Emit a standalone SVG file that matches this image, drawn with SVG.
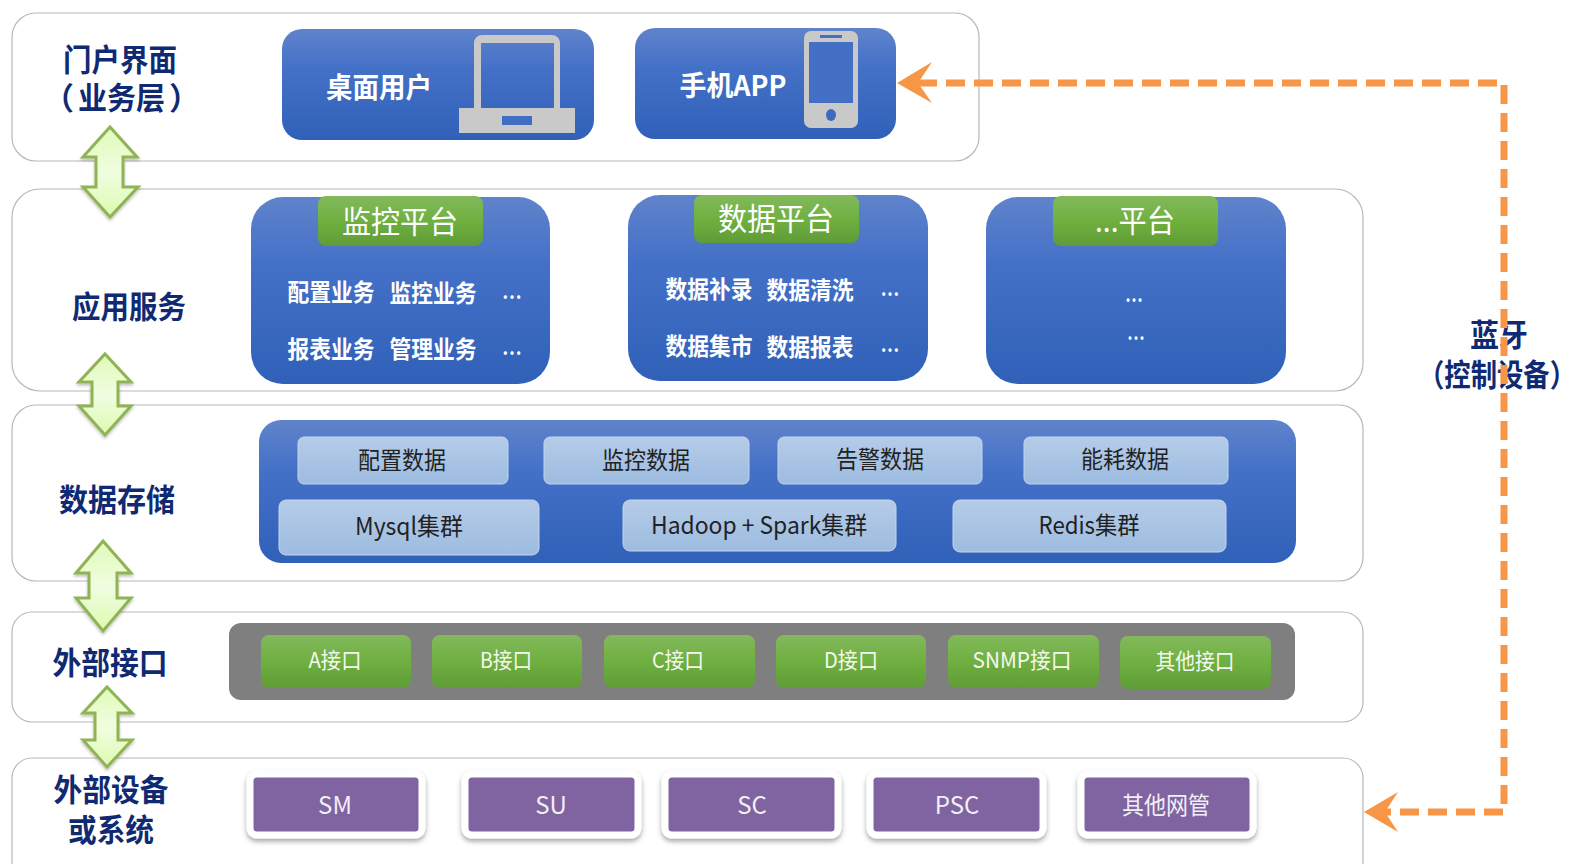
<svg xmlns="http://www.w3.org/2000/svg" width="1577" height="864" viewBox="0 0 1577 864">
<style>
text{font-family:"Noto Sans CJK SC","Noto Sans",sans-serif;text-anchor:middle}
.layer{fill:#fff;stroke:#b8b8b8;stroke-width:1.2}
.blue{fill:url(#gb)}
.green{fill:url(#gg)}
.light{fill:url(#gl);stroke:#c4d5ea;stroke-width:1}
.purple{fill:#8063a1;stroke:#fff;stroke-width:7;filter:url(#sh)}
.title{font-weight:700;font-size:31px;fill:#0f2a72}
.w{fill:#fff}
.sv{font-size:24px;font-weight:700;fill:#fff}
.dark{fill:#222;font-size:24px}
.if{fill:#f4f8f0;font-size:22px}
.pu{fill:#f2eef6;font-size:24px}
.arr{fill:url(#ga);stroke:#8fb354;stroke-width:3;stroke-linejoin:miter;filter:url(#sh2)}
.gray{fill:#c9c9c9}
.dash{fill:none;stroke:#f79646;stroke-width:7;stroke-dasharray:19 9}
</style>
<defs>
<linearGradient id="gb" x1="0" y1="0" x2="0" y2="1"><stop offset="0" stop-color="#6083cb"/><stop offset=".35" stop-color="#4471c8"/><stop offset="1" stop-color="#3060b8"/></linearGradient>
<linearGradient id="gg" x1="0" y1="0" x2="0" y2="1"><stop offset="0" stop-color="#83b95c"/><stop offset=".5" stop-color="#6fb040"/><stop offset="1" stop-color="#5f9c36"/></linearGradient>
<linearGradient id="gl" x1="0" y1="0" x2="0" y2="1"><stop offset="0" stop-color="#b5cce8"/><stop offset="1" stop-color="#9dbce0"/></linearGradient>
<linearGradient id="ga" x1="0" y1="0" x2="0" y2="1"><stop offset="0" stop-color="#dffbb8"/><stop offset=".5" stop-color="#f0fde0"/><stop offset="1" stop-color="#dcfbb0"/></linearGradient>
<filter id="sh" x="-10%" y="-10%" width="120%" height="130%"><feDropShadow dx="0" dy="3" stdDeviation="2.5" flood-color="#000" flood-opacity=".35"/></filter>
<filter id="sh2" x="-20%" y="-10%" width="140%" height="120%"><feDropShadow dx="0" dy="2" stdDeviation="1.5" flood-color="#000" flood-opacity=".25"/></filter>
</defs>

<g id="layer-portal"><rect class="layer" x="12" y="13" width="967" height="148" rx="24"/></g>
<g id="layer-app"><rect class="layer" x="12" y="189" width="1351" height="202" rx="28"/></g>
<g id="layer-store"><rect class="layer" x="12" y="405" width="1351" height="176" rx="24"/></g>
<g id="layer-iface"><rect class="layer" x="12" y="612" width="1351" height="110" rx="20"/></g>
<g id="layer-device"><rect class="layer" x="12" y="758" width="1351" height="130" rx="20"/></g>

<g id="label-portal"><text class="title" x="120" y="71" textLength="114" lengthAdjust="spacingAndGlyphs">门户界面</text><text class="title" x="43" y="109" style="text-anchor:start"><tspan>（</tspan><tspan dx="4" textLength="87" lengthAdjust="spacingAndGlyphs">业务层</tspan><tspan dx="4">）</tspan></text></g>
<g id="label-app"><text class="title" x="129" y="318" textLength="114" lengthAdjust="spacingAndGlyphs">应用服务</text></g>
<g id="label-store"><text class="title" x="117" y="511" textLength="116" lengthAdjust="spacingAndGlyphs">数据存储</text></g>
<g id="label-iface"><text class="title" x="110" y="674" textLength="115" lengthAdjust="spacingAndGlyphs">外部接口</text></g>
<g id="label-device"><text class="title" x="111" y="801" textLength="115" lengthAdjust="spacingAndGlyphs">外部设备</text><text class="title" x="111" y="841" textLength="86" lengthAdjust="spacingAndGlyphs">或系统</text></g>

<g id="desktop"><rect class="blue" x="282" y="29" width="312" height="111" rx="20"/>
<text class="w" x="379" y="98" font-size="28" font-weight="700" textLength="106" lengthAdjust="spacingAndGlyphs">桌面用户</text>
<path class="gray" fill-rule="evenodd" d="M482 35h70a8 8 0 0 1 8 8v65h15v25H459v-25h15V43a8 8 0 0 1 8-8zM481 43v65h73V43z"/>
<rect x="502" y="116" width="30" height="9" fill="#3f6ec4"/></g>

<g id="mobile"><rect class="blue" x="635" y="28" width="261" height="111" rx="20"/>
<text class="w" x="733" y="96" font-size="28" font-weight="700" textLength="107" lengthAdjust="spacingAndGlyphs">手机APP</text>
<rect class="gray" x="804" y="31" width="54" height="97" rx="7"/>
<rect x="809" y="42" width="44" height="61" fill="#4370c5"/>
<rect x="820" y="35" width="22" height="3" fill="#4370c5"/>
<ellipse cx="831" cy="115" rx="5" ry="6" fill="#3c6abf"/></g>

<g id="platform-monitor"><rect class="blue" x="251" y="197" width="299" height="187" rx="32"/>
<rect class="green" x="318" y="196" width="165" height="50" rx="8"/>
<text class="w" x="400" y="233" font-size="31" textLength="116" lengthAdjust="spacingAndGlyphs">监控平台</text>
<text class="sv" x="331" y="301" textLength="87" lengthAdjust="spacingAndGlyphs">配置业务</text><text class="sv" x="433" y="302" textLength="87" lengthAdjust="spacingAndGlyphs">监控业务</text><text class="sv" x="512" y="306" textLength="20" lengthAdjust="spacingAndGlyphs">…</text>
<text class="sv" x="331" y="358" textLength="87" lengthAdjust="spacingAndGlyphs">报表业务</text><text class="sv" x="433" y="358" textLength="87" lengthAdjust="spacingAndGlyphs">管理业务</text><text class="sv" x="512" y="362" textLength="20" lengthAdjust="spacingAndGlyphs">…</text></g>

<g id="platform-data"><rect class="blue" x="628" y="195" width="300" height="186" rx="32"/>
<rect class="green" x="694" y="195" width="165" height="48" rx="8"/>
<text class="w" x="776" y="230" font-size="31" textLength="116" lengthAdjust="spacingAndGlyphs">数据平台</text>
<text class="sv" x="709" y="298" textLength="87" lengthAdjust="spacingAndGlyphs">数据补录</text><text class="sv" x="810" y="299" textLength="87" lengthAdjust="spacingAndGlyphs">数据清洗</text><text class="sv" x="890" y="303" textLength="19" lengthAdjust="spacingAndGlyphs">…</text>
<text class="sv" x="709" y="355" textLength="87" lengthAdjust="spacingAndGlyphs">数据集市</text><text class="sv" x="810" y="356" textLength="87" lengthAdjust="spacingAndGlyphs">数据报表</text><text class="sv" x="890" y="359" textLength="19" lengthAdjust="spacingAndGlyphs">…</text></g>

<g id="platform-other"><rect class="blue" x="986" y="197" width="300" height="187" rx="32"/>
<rect class="green" x="1053" y="196" width="165" height="50" rx="8"/>
<text class="w" x="1135" y="232" font-size="31" textLength="80" lengthAdjust="spacingAndGlyphs">...平台</text>
<text class="sv" x="1134" y="309" textLength="18" lengthAdjust="spacingAndGlyphs">…</text><text class="sv" x="1136" y="347" textLength="18" lengthAdjust="spacingAndGlyphs">…</text></g>

<g id="storage"><rect class="blue" x="259" y="420" width="1037" height="143" rx="22"/>
<rect class="light" x="298" y="437" width="210" height="47" rx="6"/><text class="dark" x="402" y="469" textLength="88" lengthAdjust="spacingAndGlyphs">配置数据</text>
<rect class="light" x="544" y="437" width="205" height="47" rx="6"/><text class="dark" x="646" y="469" textLength="88" lengthAdjust="spacingAndGlyphs">监控数据</text>
<rect class="light" x="778" y="437" width="204" height="47" rx="6"/><text class="dark" x="880" y="468" textLength="88" lengthAdjust="spacingAndGlyphs">告警数据</text>
<rect class="light" x="1024" y="437" width="204" height="47" rx="6"/><text class="dark" x="1125" y="468" textLength="88" lengthAdjust="spacingAndGlyphs">能耗数据</text>
<rect class="light" x="279" y="500" width="260" height="55" rx="7"/><text class="dark" x="409" y="535" textLength="108" lengthAdjust="spacingAndGlyphs">Mysql集群</text>
<rect class="light" x="623" y="500" width="273" height="51" rx="7"/><text class="dark" x="759" y="534" textLength="216" lengthAdjust="spacingAndGlyphs">Hadoop + Spark集群</text>
<rect class="light" x="953" y="500" width="273" height="52" rx="7"/><text class="dark" x="1089" y="534" textLength="101" lengthAdjust="spacingAndGlyphs">Redis集群</text></g>

<g id="interfaces"><rect x="229" y="623" width="1066" height="77" rx="12" fill="#7f7f7f"/>
<rect class="green" x="261" y="635" width="150" height="53" rx="8"/><text class="if" x="335" y="668" textLength="53" lengthAdjust="spacingAndGlyphs">A接口</text>
<rect class="green" x="432" y="635" width="150" height="53" rx="8"/><text class="if" x="506" y="668" textLength="52" lengthAdjust="spacingAndGlyphs">B接口</text>
<rect class="green" x="604" y="635" width="151" height="53" rx="8"/><text class="if" x="678" y="668" textLength="52" lengthAdjust="spacingAndGlyphs">C接口</text>
<rect class="green" x="776" y="635" width="150" height="53" rx="8"/><text class="if" x="851" y="668" textLength="54" lengthAdjust="spacingAndGlyphs">D接口</text>
<rect class="green" x="948" y="635" width="151" height="53" rx="8"/><text class="if" x="1022" y="668" textLength="99" lengthAdjust="spacingAndGlyphs">SNMP接口</text>
<rect class="green" x="1120" y="636" width="151" height="53" rx="8"/><text class="if" x="1195" y="669" textLength="79" lengthAdjust="spacingAndGlyphs">其他接口</text></g>

<g id="devices"><rect class="purple" x="250" y="774" width="172" height="61" rx="7"/><text class="pu" x="335" y="814">SM</text>
<rect class="purple" x="465" y="774" width="173" height="61" rx="7"/><text class="pu" x="551" y="814">SU</text>
<rect class="purple" x="665" y="774" width="173" height="61" rx="7"/><text class="pu" x="752" y="814">SC</text>
<rect class="purple" x="870" y="774" width="173" height="61" rx="7"/><text class="pu" x="957" y="814">PSC</text>
<rect class="purple" x="1081" y="774" width="172" height="61" rx="7"/><text class="pu" x="1166" y="814" textLength="88" lengthAdjust="spacingAndGlyphs">其他网管</text></g>

<g id="label-bt"><text class="title" x="1499" y="346" textLength="58" lengthAdjust="spacingAndGlyphs">蓝牙</text><text class="title" x="1497" y="386" textLength="158" lengthAdjust="spacingAndGlyphs">（控制设备）</text></g>

<g id="connectors">
<polygon class="arr" points="110,127 137,157 123,157 123,187 138,187 110,217 83,187 96,187 96,157 83,157"/>
<polygon class="arr" points="105,354 131,382 118,382 118,406 131,406 105,435 79,406 92,406 92,382 79,382"/>
<polygon class="arr" points="103,541 131,573 117,573 117,598 131,598 103,631 76,598 89,598 89,573 76,573"/>
<polygon class="arr" points="107,687 132,713 118,713 118,740 132,740 107,767 83,740 95,740 95,713 83,713"/>
<path class="dash" d="M918 83H1504V812H1385"/>
<polygon points="897,83 932,62 918,83 932,103" fill="#f79646"/>
<polygon points="1364,812 1398,792 1385,812 1398,832" fill="#f79646"/>
</g>
</svg>
